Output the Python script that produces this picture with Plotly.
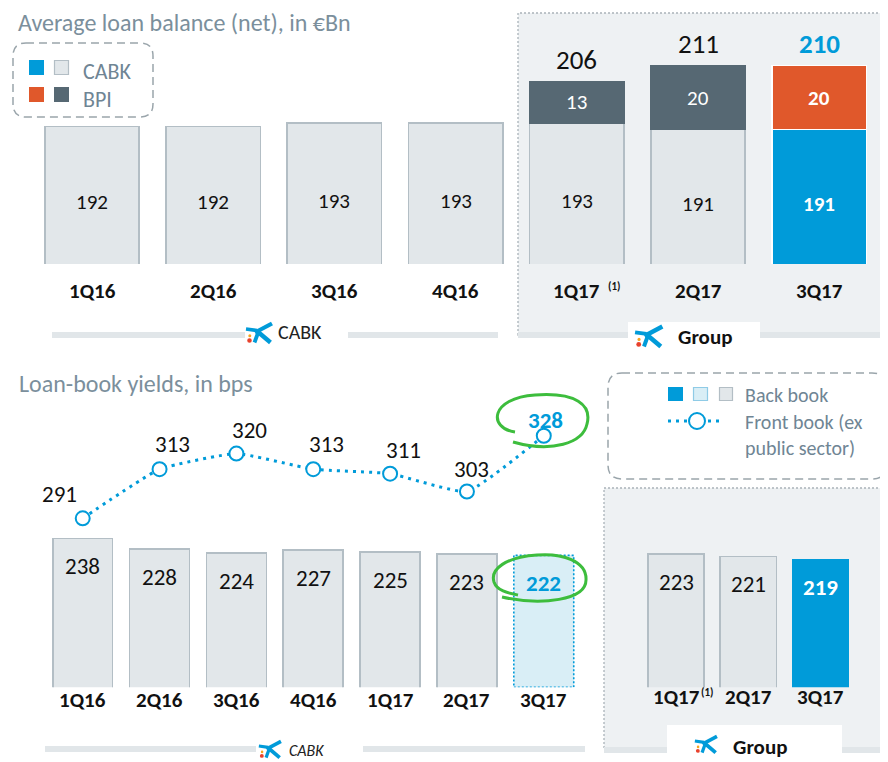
import plotly.graph_objects as go

# The page body adds an 8px margin, so the figure is drawn 8px in from the window corner.
OFF = 8
W, H = 880, 754

# ---------------- data ----------------
quarters = ["1Q16", "2Q16", "3Q16", "4Q16", "1Q17", "2Q17", "3Q17"]
balance_cabk = [192, 192, 193, 193, 193, 191, 191]
balance_bpi = [None, None, None, None, 13, 20, 20]
balance_total_labels = [None, None, None, None, 206, 211, 210]

back_book_cabk = [238, 228, 224, 227, 225, 223, 222]
front_book_cabk = [291, 313, 320, 313, 311, 303, 328]

group_quarters = ["1Q17", "2Q17", "3Q17"]
back_book_group = [223, 221, 219]

footnote_quarter = "1Q17"
footnote_mark = "(1)"

# ---------------- style ----------------
FONT = "Carlito, Lato, sans-serif"
GRAY_FILL = "#e2e7ea"
GRAY_LINE = "#b3bec5"
DARK = "#566873"
BLUE = "#009bd9"
ORANGE = "#e0582b"
LIGHTBLUE = "#d9eef6"
PANEL = "#eef1f3"
TITLE_C = "#7b8f9c"
LEG_C = "#6f8594"
GREEN = "#3dbd3d"
TEXT_C = "#111111"


def px(x):
    return (x - OFF) / W


def py(y):
    return 1 - (y - OFF) / H


def P(x, y):
    return f"{px(x):.5f},{py(y):.5f}"


shapes = []
annotations = []


def rect(x0, y0, x1, y1, fill, line_color=None, lw=0, dash=None, layer="below"):
    d = dict(type="rect", xref="paper", yref="paper",
             x0=px(x0), x1=px(x1), y0=py(y1), y1=py(y0),
             fillcolor=fill, layer=layer,
             line=dict(width=lw, color=line_color or "rgba(0,0,0,0)"))
    if dash:
        d["line"]["dash"] = dash
    shapes.append(d)


def rrect(x0, y0, x1, y1, r, line_color, lw, dash, fill="white"):
    path = (f"M {P(x0 + r, y0)} L {P(x1 - r, y0)} Q {P(x1, y0)} {P(x1, y0 + r)} "
            f"L {P(x1, y1 - r)} Q {P(x1, y1)} {P(x1 - r, y1)} L {P(x0 + r, y1)} "
            f"Q {P(x0, y1)} {P(x0, y1 - r)} L {P(x0, y0 + r)} Q {P(x0, y0)} {P(x0 + r, y0)} Z")
    shapes.append(dict(type="path", xref="paper", yref="paper", path=path,
                       fillcolor=fill, layer="below",
                       line=dict(color=line_color, width=lw, dash=dash)))


def text(x, y, s, size, color=TEXT_C, anchor="left", bold=False, italic=False):
    if bold:
        s = f"<b>{s}</b>"
    if italic:
        s = f"<i>{s}</i>"
    annotations.append(dict(xref="paper", yref="paper", x=px(x), y=py(y), text=s,
                            showarrow=False, xanchor=anchor, yanchor="middle", borderpad=0,
                            font=dict(family=FONT, size=size, color=color)))


def logo(x0, y0, s=1.0):
    def L(ax, ay, bx, by, w, color):
        shapes.append(dict(type="line", xref="paper", yref="paper",
                           x0=px(x0 + ax * s), y0=py(y0 + ay * s),
                           x1=px(x0 + bx * s), y1=py(y0 + by * s),
                           line=dict(color=color, width=w * s), layer="above"))

    def C(cx, cy, r, color):
        shapes.append(dict(type="circle", xref="paper", yref="paper",
                           x0=px(x0 + (cx - r) * s), x1=px(x0 + (cx + r) * s),
                           y0=py(y0 + (cy + r) * s), y1=py(y0 + (cy - r) * s),
                           fillcolor=color, line=dict(width=0), layer="above"))
    L(1, 6, 12, 7.5, 3.6, BLUE)
    L(10, 9.5, 27, 0.5, 4.2, BLUE)
    L(12.5, 8.5, 25.5, 19.5, 4.4, BLUE)
    L(13.5, 8.5, 9.5, 19.5, 3.8, BLUE)
    C(4.5, 17.5, 2.3, "#e8412c")
    C(4.8, 12.8, 1.5, "#f5a623")


def green_loop(path_pts):
    shapes.append(dict(type="path", xref="paper", yref="paper", path=path_pts,
                       line=dict(color=GREEN, width=3), layer="above"))


# ---------------- panels / decorations ----------------
# top group panel
rect(518, 13, 881, 335, PANEL, "#aab3b9", 1.3, "2px,2px")
rect(518, 332, 881, 338, "#e1e6e9")
rect(628, 322, 760, 352, "white")
# top CABK separator
rect(52, 332, 245, 338, "#e1e6e9")
rect(348, 332, 498, 338, "#e1e6e9")
# bottom group panel
rect(604, 488, 882, 750, PANEL, "#aab3b9", 1.3, "2px,2px")
rect(604, 747, 882, 753, "#e1e6e9")
rect(667, 725, 842, 762, "white")
# bottom CABK separator
rect(45, 746, 256, 752, "#e1e6e9")
rect(363, 746, 585, 752, "#e1e6e9")

# legend boxes
rrect(13, 43, 153, 117, 13, "#9aa5ab", 1.5, "8px,5px")
rrect(608, 373, 886, 479, 14, "#9aa5ab", 1.5, "8px,5px")

# top legend content
rect(29, 60, 44, 75, BLUE)
rect(54.5, 60.5, 68.5, 74.5, GRAY_FILL, GRAY_LINE, 1.2)
rect(29, 87, 44, 102, ORANGE)
rect(54, 87, 69, 102, DARK)
text(82, 72, "CABK", 22, LEG_C)
text(82, 99, "BPI", 22, LEG_C)

# bottom legend content
rect(668, 387, 683, 401, BLUE)
rect(693.5, 387.5, 707.5, 400.5, LIGHTBLUE, "#8fcbe6", 1.2)
rect(719.5, 387.5, 732.5, 400.5, GRAY_FILL, GRAY_LINE, 1.2)
shapes.append(dict(type="line", xref="paper", yref="paper", x0=px(668), x1=px(723),
                   y0=py(421), y1=py(421), layer="below",
                   line=dict(color=BLUE, width=3, dash="3px,5px")))
shapes.append(dict(type="circle", xref="paper", yref="paper", x0=px(689), x1=px(705),
                   y0=py(429), y1=py(413), fillcolor="white", layer="below",
                   line=dict(color=BLUE, width=2)))
text(744, 395, "Back book", 20, LEG_C)
text(744, 422, "Front book (ex", 20, LEG_C)
text(744, 448, "public sector)", 20, LEG_C)

# titles
text(17, 23, "Average loan balance (net), in €Bn", 24, TITLE_C)
text(18, 383, "Loan-book yields, in bps", 24, TITLE_C)

# section labels with logos
logo(245, 323, 1.0)
text(277, 332, "CABK", 20, "#222222")
logo(634, 326, 1.05)
text(677, 337, "Group", 21, "#111111", bold=True)
logo(258, 741, 0.85)
text(288, 750, "CABK", 16, "#222222", italic=True)
logo(694, 736, 0.85)
text(732, 747, "Group", 21, "#111111", bold=True)

# ---------------- axes geometry (window pixels) ----------------
TOP_BASE = 149
TOP_SCALE = 3.2           # px per unit
TOP_Y0, TOP_Y1 = 264, 40
TOP_X0, TOP_X1 = 31.4, 879.8

BOT_BASE = 97.8
BOT_SCALE = 1.0625
BOT_Y0, BOT_Y1 = 687.3, 400
BOT_X0, BOT_X1 = 44.3, 582.2
GRP_X0, GRP_X1 = 639.9, 856.6
LINE_REF_V, LINE_REF_Y, LINE_SCALE = 291, 518.3, 2.232

top_range = [TOP_BASE, TOP_BASE + (TOP_Y0 - TOP_Y1) / TOP_SCALE]
bot_range = [BOT_BASE, BOT_BASE + (BOT_Y0 - BOT_Y1) / BOT_SCALE]
line_range = [LINE_REF_V - (BOT_Y0 - LINE_REF_Y) / LINE_SCALE,
              LINE_REF_V + (LINE_REF_Y - BOT_Y1) / LINE_SCALE]

fig = go.Figure()

n = len(quarters)
last = n - 1
# ---------------- top chart ----------------
fig.add_trace(go.Bar(
    x=quarters, y=balance_cabk, xaxis="x", yaxis="y",
    marker=dict(color=[GRAY_FILL] * last + [BLUE],
                line=dict(color=[GRAY_LINE] * last + ["white"], width=[1.6] * last + [1.2])),
    hoverinfo="skip"))
fig.add_trace(go.Bar(
    x=quarters, y=balance_bpi, xaxis="x", yaxis="y",
    marker=dict(color=[DARK] * last + [ORANGE],
                line=dict(color=[DARK] * last + ["white"], width=[1] * last + [1.2])),
    hoverinfo="skip"))

for i, q in enumerate(quarters):
    v = balance_cabk[i]
    is_last = i == last
    annotations.append(dict(
        xref="x", yref="y", x=q, y=(TOP_BASE + v) / 2, yshift=-7,
        text=f"<b>{v}</b>" if is_last else str(v), showarrow=False,
        font=dict(family=FONT, size=21, color="white" if is_last else TEXT_C)))
    b = balance_bpi[i]
    if b is not None:
        annotations.append(dict(
            xref="x", yref="y", x=q, y=v + b / 2,
            text=f"<b>{b}</b>" if is_last else str(b), showarrow=False,
            font=dict(family=FONT, size=21, color="white")))
        t = balance_total_labels[i]
        annotations.append(dict(
            xref="x", yref="y", x=q, y=v + b, yshift=22,
            text=f"<b>{t}</b>" if is_last else str(t), showarrow=False,
            font=dict(family=FONT, size=27, color=BLUE if is_last else TEXT_C)))
    annotations.append(dict(
        xref="x", yref="paper", x=q, y=py(291), text=f"<b>{q}</b>", showarrow=False,
        font=dict(family=FONT, size=21, color=TEXT_C)))
    if q == footnote_quarter:
        annotations.append(dict(
            xref="x", yref="paper", x=q, xshift=37, y=py(286), text=f"<b>{footnote_mark}</b>",
            showarrow=False, font=dict(family=FONT, size=11, color=TEXT_C)))

# ---------------- bottom-left chart ----------------
fig.add_trace(go.Bar(
    x=quarters, y=back_book_cabk, xaxis="x3", yaxis="y3",
    marker=dict(color=[GRAY_FILL] * last + [LIGHTBLUE],
                line=dict(color=[GRAY_LINE] * last + [LIGHTBLUE], width=[1.6] * last + [0])),
    hoverinfo="skip"))
BW = 0.78
shapes.append(dict(type="rect", xref="x3", yref="y3",
                   x0=last - BW / 2, x1=last + BW / 2,
                   y0=bot_range[0], y1=back_book_cabk[last], layer="above",
                   line=dict(color=BLUE, width=1.6, dash="2px,2px"), fillcolor="rgba(0,0,0,0)"))

fig.add_trace(go.Scatter(
    x=quarters, y=front_book_cabk, xaxis="x3", yaxis="y5",
    mode="lines+markers",
    line=dict(color=BLUE, width=3, dash="3px,5px", shape="spline", smoothing=0.4),
    marker=dict(symbol="circle", size=14, color="white", line=dict(color=BLUE, width=2)),
    cliponaxis=False, hoverinfo="skip"))

line_label_shift = [(-23, 24), (13, 25), (13, 24), (13, 25), (13, 24), (5, 23), (2, 16)]
for i, q in enumerate(quarters):
    v = back_book_cabk[i]
    is_last = i == last
    annotations.append(dict(
        xref="x3", yref="y3", x=q, y=v, yshift=-28,
        text=f"<b>{v}</b>" if is_last else str(v), showarrow=False,
        font=dict(family=FONT, size=23, color=BLUE if is_last else TEXT_C)))
    f = front_book_cabk[i]
    dx, dy = line_label_shift[i]
    annotations.append(dict(
        xref="x3", yref="y5", x=q, y=f, xshift=dx, yshift=dy,
        text=f"<b>{f}</b>" if is_last else str(f), showarrow=False,
        font=dict(family=FONT, size=23, color=BLUE if is_last else TEXT_C)))
    annotations.append(dict(
        xref="x3", yref="paper", x=q, y=py(715), text=f"<b>{q}</b>", showarrow=False,
        font=dict(family=FONT, size=21, color=TEXT_C)))

# ---------------- bottom-right (group) chart ----------------
g_last = len(group_quarters) - 1
fig.add_trace(go.Bar(
    x=group_quarters, y=back_book_group, xaxis="x4", yaxis="y4",
    marker=dict(color=[GRAY_FILL] * g_last + [BLUE],
                line=dict(color=[GRAY_LINE] * g_last + [BLUE], width=[1.6] * g_last + [0])),
    hoverinfo="skip"))
for i, q in enumerate(group_quarters):
    v = back_book_group[i]
    is_last = i == g_last
    annotations.append(dict(
        xref="x4", yref="y4", x=q, y=v, yshift=-28,
        text=f"<b>{v}</b>" if is_last else str(v), showarrow=False,
        font=dict(family=FONT, size=23, color="white" if is_last else TEXT_C)))
    annotations.append(dict(
        xref="x4", yref="paper", x=q, y=py(712), text=f"<b>{q}</b>", showarrow=False,
        font=dict(family=FONT, size=21, color=TEXT_C)))
    if q == footnote_quarter:
        annotations.append(dict(
            xref="x4", yref="paper", x=q, xshift=31, y=py(701), text=f"<b>{footnote_mark}</b>",
            showarrow=False, font=dict(family=FONT, size=11, color=TEXT_C)))

# ---------------- hand-drawn highlight loops ----------------
green_loop(f"M {P(515, 432)} C {P(488, 428)} {P(490, 398)} {P(535, 395)} "
           f"C {P(576, 392)} {P(592, 405)} {P(587, 424)} C {P(583, 443)} {P(552, 453)} {P(513, 442)}")
green_loop(f"M {P(502, 597)} C {P(542, 606)} {P(586, 600)} {P(586, 580)} "
           f"C {P(587, 561)} {P(562, 553)} {P(537, 555)} C {P(506, 557)} {P(490, 569)} {P(494, 582)} "
           f"C {P(497, 591)} {P(508, 593)} {P(518, 595)}")

ax_common = dict(visible=False, showgrid=False, zeroline=False, fixedrange=True)
fig.update_layout(
    width=W, height=H,
    margin=dict(l=0, r=0, t=0, b=0),
    paper_bgcolor="white", plot_bgcolor="rgba(0,0,0,0)",
    showlegend=False, barmode="stack", bargap=1 - BW,
    font=dict(family=FONT),
    xaxis=dict(domain=[px(TOP_X0), px(TOP_X1)], anchor="y", type="category",
               range=[-0.5, n - 0.5], **ax_common),
    yaxis=dict(domain=[py(TOP_Y0), py(TOP_Y1)], anchor="x", range=top_range, **ax_common),
    xaxis3=dict(domain=[px(BOT_X0), px(BOT_X1)], anchor="y3", type="category",
                range=[-0.5, n - 0.5], **ax_common),
    yaxis3=dict(domain=[py(BOT_Y0), py(BOT_Y1)], anchor="x3", range=bot_range, **ax_common),
    yaxis5=dict(overlaying="y3", anchor="x3", range=line_range, **ax_common),
    xaxis4=dict(domain=[px(GRP_X0), px(GRP_X1)], anchor="y4", type="category",
                range=[-0.5, len(group_quarters) - 0.5], **ax_common),
    yaxis4=dict(domain=[py(BOT_Y0), py(BOT_Y1)], anchor="x4", range=bot_range, **ax_common),
    shapes=shapes,
    annotations=annotations,
)

fig.write_html("out.html")
